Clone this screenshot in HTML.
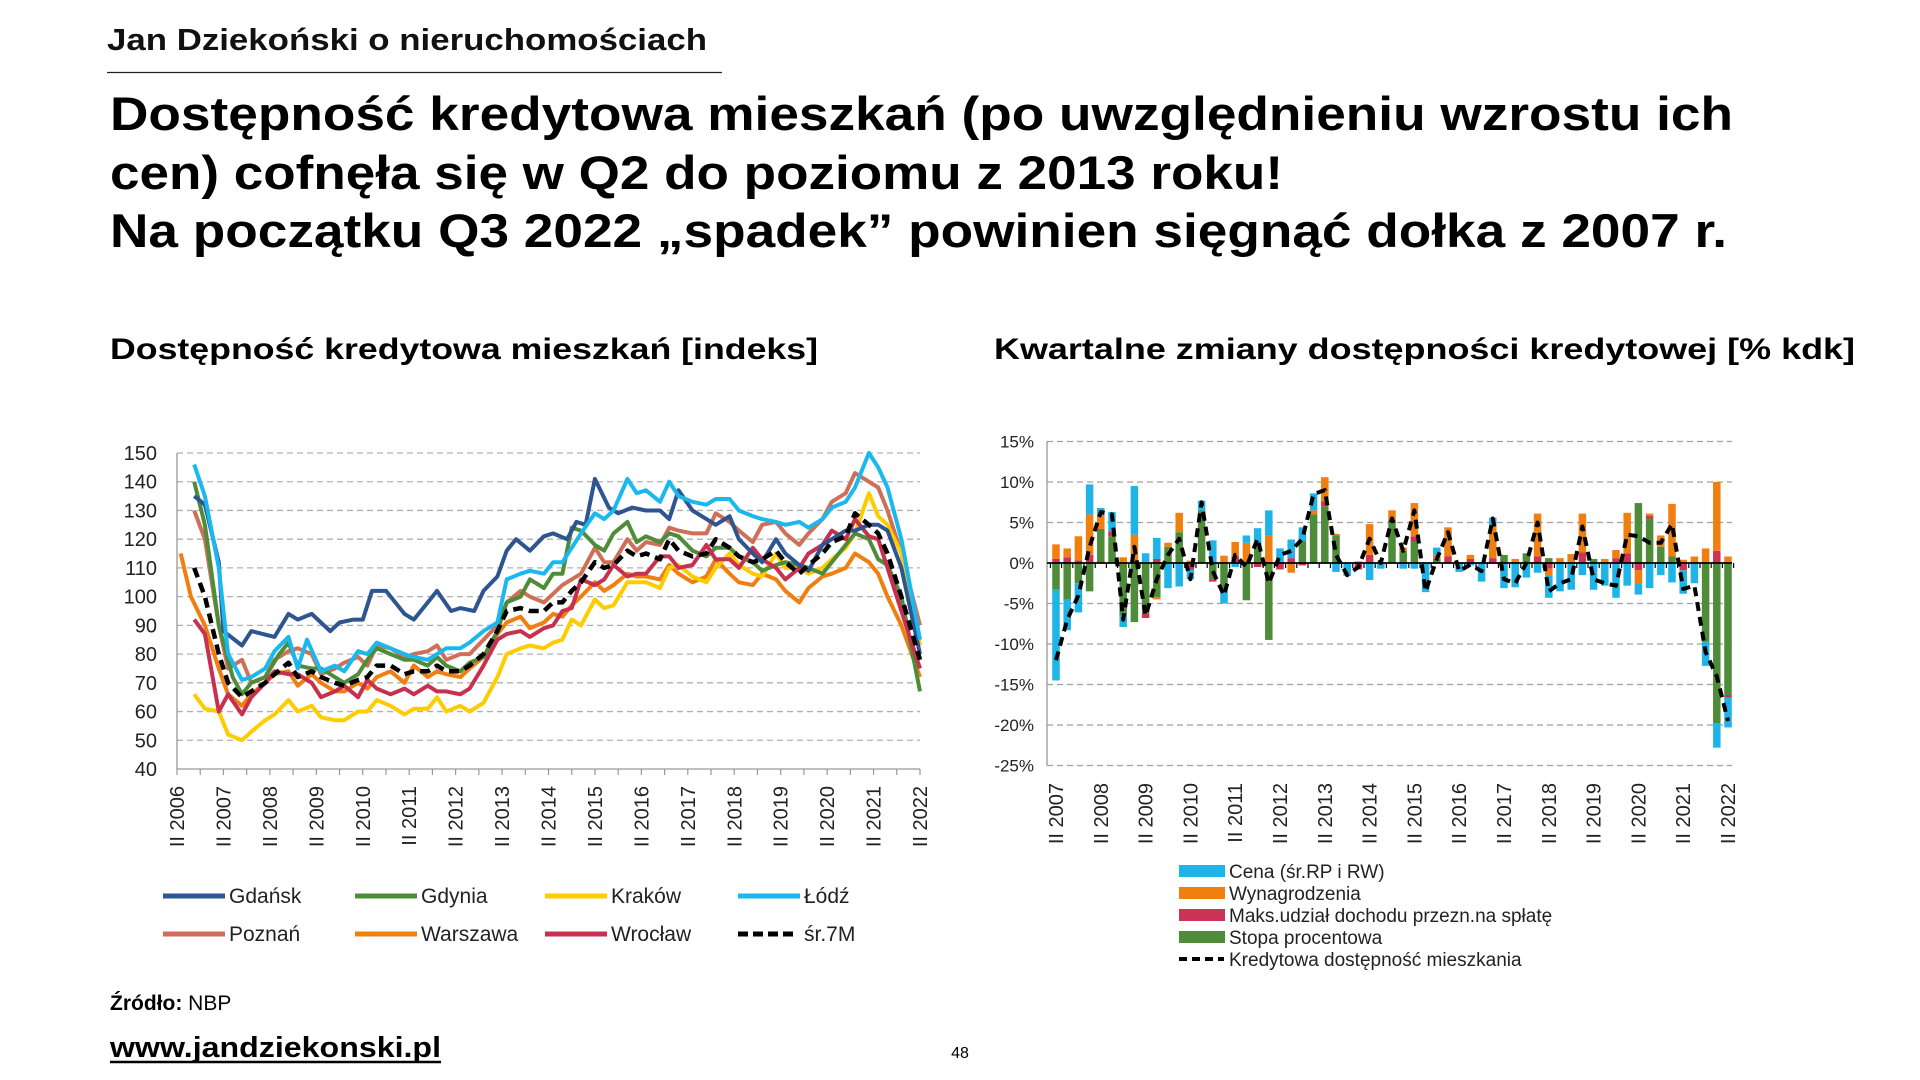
<!DOCTYPE html>
<html><head><meta charset="utf-8">
<style>
html,body{margin:0;padding:0;background:#fff;}
svg{display:block;font-family:"Liberation Sans",Arial,sans-serif;}
</style></head>
<body>
<svg id="s" width="1920" height="1080" viewBox="0 0 1920 1080" xmlns="http://www.w3.org/2000/svg">
<text x="107" y="50" font-size="31" font-weight="bold" textLength="600" lengthAdjust="spacingAndGlyphs" fill="#111">Jan Dziekoński o nieruchomościach</text>
<line x1="107" y1="72.5" x2="722" y2="72.5" stroke="#222" stroke-width="1.3"/>
<g font-weight="bold" font-size="47" fill="#000">
<text x="110" y="130" textLength="1623" lengthAdjust="spacingAndGlyphs">Dostępność kredytowa mieszkań (po uwzględnieniu wzrostu ich</text>
<text x="110" y="189" textLength="1173" lengthAdjust="spacingAndGlyphs">cen) cofnęła się w Q2 do poziomu z 2013 roku!</text>
<text x="110" y="247" textLength="1617" lengthAdjust="spacingAndGlyphs">Na początku Q3 2022 „spadek” powinien sięgnąć dołka z 2007 r.</text>
</g>
<g font-weight="bold" font-size="30" fill="#000">
<text x="110" y="359" textLength="708" lengthAdjust="spacingAndGlyphs">Dostępność kredytowa mieszkań [indeks]</text>
<text x="994" y="359" textLength="861" lengthAdjust="spacingAndGlyphs">Kwartalne zmiany dostępności kredytowej [% kdk]</text>
</g>
<g id="left"></g>
<g id="right"></g>
<text x="110" y="1010" font-size="21" fill="#000"><tspan font-weight="bold">Źródło:</tspan> NBP</text>
<text x="110" y="1057" font-size="29" font-weight="bold" fill="#000" textLength="331" lengthAdjust="spacingAndGlyphs">www.jandziekonski.pl</text>
<line x1="110" y1="1062" x2="441" y2="1062" stroke="#000" stroke-width="2.5"/>
<text x="960" y="1058" font-size="16" text-anchor="middle" fill="#000">48</text>
</svg>
<script>
var NS="http://www.w3.org/2000/svg";
function el(p,t,a,txt){var e=document.createElementNS(NS,t);for(var k in a)e.setAttribute(k,a[k]);if(txt!=null)e.textContent=txt;p.appendChild(e);return e;}
var L=document.getElementById('left');
// left chart
var x0=177,x1=920,yT=453,yB=769;
function lx(y){return x0+(y-2006)/16*(x1-x0);}
function ly(v){return yB-(v-40)/110*(yB-yT);}
for(var v=40;v<=150;v+=10){
  if(v>40)el(L,'line',{x1:x0,y1:ly(v),x2:x1,y2:ly(v),stroke:'#b0b0b0','stroke-width':1.3,'stroke-dasharray':'6,4'});
  el(L,'text',{x:157,y:ly(v)+7,'font-size':20,'text-anchor':'end',fill:'#222'},v);
}
el(L,'line',{x1:x0,y1:yT,x2:x0,y2:yB,stroke:'#999','stroke-width':1.3});
el(L,'line',{x1:x0,y1:yB,x2:x1,y2:yB,stroke:'#999','stroke-width':1.3});
for(var q=0;q<=64;q+=2){var xx=x0+q*(x1-x0)/64;el(L,'line',{x1:xx,y1:yB,x2:xx,y2:yB+6,stroke:'#999','stroke-width':1.2});}
for(var y=2006;y<=2022;y++){var xx=lx(y)+7;el(L,'text',{x:xx,y:786,'font-size':20,'text-anchor':'end',fill:'#222',transform:'rotate(-90 '+xx+' 786)'},'II '+y);}
var S={
gd:['#2E5591',[2006.37,135,2006.6,132,2006.9,112,2007.0,88,2007.4,83,2007.6,88,2008.1,86,2008.4,94,2008.6,92,2008.9,94,2009.3,88,2009.5,91,2009.8,92,2010.0,92,2010.2,102,2010.5,102,2010.9,94,2011.1,92,2011.4,98,2011.6,102,2011.9,95,2012.1,96,2012.4,95,2012.6,102,2012.9,107,2013.1,116,2013.3,120,2013.6,116,2013.9,121,2014.1,122,2014.4,120,2014.6,126,2014.8,125,2015.0,141,2015.3,131,2015.5,129,2015.8,131,2016.1,130,2016.4,130,2016.6,127,2016.8,137,2017.1,130,2017.4,127,2017.6,125,2017.9,128,2018.1,120,2018.4,115,2018.6,112,2018.9,120,2019.1,115,2019.4,111,2019.6,109,2019.9,118,2020.1,120,2020.4,123,2020.6,123,2020.9,125,2021.1,125,2021.3,123,2021.6,110,2022.0,80]],
gy:['#4E8C3A',[2006.37,140,2006.6,125,2006.9,90,2007.2,72,2007.4,66,2007.6,70,2007.9,72,2008.2,80,2008.4,84,2008.6,76,2008.9,75,2009.1,75,2009.4,72,2009.6,70,2009.9,73,2010.1,78,2010.3,82,2010.6,80,2010.9,78,2011.1,78,2011.4,76,2011.6,79,2011.8,76,2012.1,74,2012.3,77,2012.6,79,2012.9,88,2013.1,98,2013.4,100,2013.6,106,2013.9,103,2014.1,108,2014.3,108,2014.5,124,2014.7,123,2015.0,118,2015.2,116,2015.4,122,2015.7,126,2015.9,119,2016.1,121,2016.4,119,2016.6,122,2016.8,121,2017.1,116,2017.4,114,2017.6,117,2017.9,117,2018.1,114,2018.4,112,2018.6,109,2018.9,111,2019.1,112,2019.4,111,2019.6,110,2019.9,108,2020.1,112,2020.4,118,2020.6,122,2020.9,120,2021.1,113,2021.3,111,2021.6,100,2022.0,67]],
kr:['#FFCC00',[2006.37,66,2006.6,61,2006.9,60,2007.1,52,2007.4,50,2007.6,53,2007.9,57,2008.1,59,2008.4,64,2008.6,60,2008.9,62,2009.1,58,2009.4,57,2009.6,57,2009.9,60,2010.1,60,2010.3,64,2010.6,62,2010.9,59,2011.1,61,2011.4,61,2011.6,65,2011.8,60,2012.1,62,2012.3,60,2012.6,63,2012.9,72,2013.1,80,2013.4,82,2013.6,83,2013.9,82,2014.1,84,2014.3,85,2014.5,92,2014.7,90,2015.0,99,2015.2,96,2015.4,97,2015.7,105,2015.9,105,2016.1,105,2016.4,103,2016.6,110,2016.8,111,2017.1,107,2017.4,105,2017.6,110,2017.9,115,2018.1,111,2018.4,108,2018.6,107,2018.9,115,2019.1,110,2019.4,110,2019.6,108,2019.9,110,2020.1,113,2020.4,117,2020.6,122,2020.9,136,2021.1,128,2021.3,125,2021.6,115,2022.0,83]],
lo:['#1BB8F0',[2006.37,146,2006.6,135,2006.9,110,2007.1,80,2007.4,71,2007.6,72,2007.9,75,2008.1,81,2008.4,86,2008.6,75,2008.8,85,2009.1,74,2009.4,76,2009.6,74,2009.9,81,2010.1,80,2010.3,84,2010.6,82,2010.9,80,2011.1,79,2011.4,78,2011.6,80,2011.8,82,2012.1,82,2012.3,84,2012.6,88,2012.9,91,2013.1,106,2013.4,108,2013.6,109,2013.9,108,2014.1,112,2014.3,112,2014.5,117,2014.7,122,2015.0,129,2015.2,127,2015.4,130,2015.7,141,2015.9,136,2016.1,137,2016.4,133,2016.6,140,2016.8,135,2017.1,133,2017.4,132,2017.6,134,2017.9,134,2018.1,130,2018.4,128,2018.6,127,2018.9,126,2019.1,125,2019.4,126,2019.6,124,2019.9,127,2020.1,131,2020.4,133,2020.6,138,2020.9,150,2021.1,145,2021.3,138,2021.6,120,2022.0,85]],
po:['#CF6F58',[2006.37,130,2006.6,120,2006.9,90,2007.1,75,2007.4,78,2007.6,70,2007.9,72,2008.1,78,2008.4,81,2008.6,82,2008.9,80,2009.1,73,2009.4,75,2009.6,77,2009.9,79,2010.1,76,2010.3,83,2010.6,82,2010.9,79,2011.1,80,2011.4,81,2011.6,83,2011.8,78,2012.1,80,2012.3,80,2012.6,85,2012.9,90,2013.1,98,2013.4,102,2013.6,100,2013.9,98,2014.1,101,2014.3,104,2014.5,106,2014.7,108,2015.0,117,2015.2,112,2015.4,112,2015.7,120,2015.9,116,2016.1,119,2016.4,118,2016.6,124,2016.8,123,2017.1,122,2017.4,122,2017.6,129,2017.9,126,2018.1,123,2018.4,119,2018.6,125,2018.9,126,2019.1,122,2019.4,118,2019.6,122,2019.9,127,2020.1,133,2020.4,136,2020.6,143,2020.9,140,2021.1,138,2021.3,130,2021.6,115,2022.0,90]],
wa:['#F07F10',[2006.08,115,2006.3,100,2006.6,90,2006.9,75,2007.1,66,2007.4,62,2007.6,66,2007.9,70,2008.1,73,2008.4,74,2008.6,69,2008.9,73,2009.1,70,2009.4,67,2009.6,67,2009.9,70,2010.1,68,2010.3,72,2010.6,74,2010.9,70,2011.1,76,2011.4,72,2011.6,74,2011.8,73,2012.1,72,2012.3,75,2012.6,79,2012.9,87,2013.1,91,2013.4,93,2013.6,89,2013.9,91,2014.1,94,2014.3,93,2014.5,97,2014.7,100,2015.0,105,2015.2,102,2015.4,104,2015.7,108,2015.9,107,2016.1,107,2016.4,106,2016.6,111,2016.8,108,2017.1,105,2017.4,107,2017.6,113,2017.9,108,2018.1,105,2018.4,104,2018.6,108,2018.9,106,2019.1,102,2019.4,98,2019.6,103,2019.9,107,2020.1,108,2020.4,110,2020.6,115,2020.9,112,2021.1,108,2021.3,100,2021.6,90,2022.0,72]],
wr:['#C8304F',[2006.37,92,2006.6,87,2006.9,60,2007.1,66,2007.4,59,2007.6,65,2007.9,70,2008.1,74,2008.4,73,2008.6,73,2008.9,70,2009.1,65,2009.4,67,2009.6,69,2009.9,65,2010.1,71,2010.3,68,2010.6,66,2010.9,68,2011.1,66,2011.4,69,2011.6,67,2011.8,67,2012.1,66,2012.3,68,2012.6,76,2012.9,85,2013.1,87,2013.4,88,2013.6,86,2013.9,89,2014.1,90,2014.3,95,2014.5,96,2014.7,106,2015.0,104,2015.2,106,2015.4,111,2015.7,107,2015.9,108,2016.1,108,2016.4,114,2016.6,114,2016.8,110,2017.1,111,2017.4,118,2017.6,113,2017.9,113,2018.1,110,2018.4,117,2018.6,113,2018.9,110,2019.1,106,2019.4,110,2019.6,115,2019.9,118,2020.1,123,2020.4,120,2020.6,127,2020.9,121,2021.1,120,2021.3,110,2021.6,95,2022.0,75]],
av:['#000',[2006.37,110,2006.6,100,2006.9,80,2007.1,70,2007.4,65,2007.6,67,2007.9,70,2008.1,73,2008.4,77,2008.6,72,2008.9,74,2009.1,72,2009.4,70,2009.6,69,2009.9,71,2010.1,72,2010.3,76,2010.6,76,2010.9,73,2011.1,74,2011.4,74,2011.6,76,2011.8,74,2012.1,74,2012.3,76,2012.6,80,2012.9,88,2013.1,95,2013.4,96,2013.6,95,2013.9,95,2014.1,98,2014.3,98,2014.5,102,2014.7,105,2015.0,112,2015.2,110,2015.4,111,2015.7,116,2015.9,114,2016.1,115,2016.4,113,2016.6,120,2016.8,116,2017.1,114,2017.4,115,2017.6,120,2017.9,117,2018.1,114,2018.4,112,2018.6,113,2018.9,116,2019.1,112,2019.4,108,2019.6,111,2019.9,115,2020.1,119,2020.4,121,2020.6,129,2020.9,125,2021.1,122,2021.3,115,2021.6,100,2022.0,78]]};
['po','wa','kr','gy','wr','gd','lo','av'].forEach(function(k){
  var c=S[k][0],d=S[k][1],p=[];
  for(var i=0;i<d.length;i+=2)p.push(lx(d[i]).toFixed(1)+','+ly(d[i+1]).toFixed(1));
  var a={points:p.join(' '),fill:'none',stroke:c,'stroke-width':4,'stroke-linejoin':'round'};
  if(k=='av'){a['stroke-dasharray']='10,6';a['stroke-width']=4.5;}
  el(L,'polyline',a);
});
var leg=[['Gdańsk','#2E5591',163,896],['Gdynia','#4E8C3A',355,896],['Kraków','#FFCC00',545,896],['Łódź','#1BB8F0',738,896],
['Poznań','#CF6F58',163,934],['Warszawa','#F07F10',355,934],['Wrocław','#C8304F',545,934],['śr.7M','#000',738,934]];
leg.forEach(function(g){
  var a={x1:g[2],y1:g[3],x2:g[2]+62,y2:g[3],stroke:g[1],'stroke-width':5};
  if(g[0]=='śr.7M'){a['stroke-dasharray']='10,5';a.x2=g[2]+57;}
  el(L,'line',a);
  el(L,'text',{x:g[2]+66,y:g[3]+7,'font-size':21,fill:'#222'},g[0]);
});
// right chart
var R=document.getElementById('right');
var rx0=1047,rx1=1732,ry15=441.5,ry0=563,ppu=8.1;
function ry(v){return ry0-v*ppu;}
for(var v=-25;v<=15;v+=5){
  if(v!=0)el(R,'line',{x1:rx0,y1:ry(v),x2:rx1,y2:ry(v),stroke:'#a0a0a0','stroke-width':1.3,'stroke-dasharray':'6,4'});
  el(R,'text',{x:1034,y:ry(v)+6,'font-size':17,'text-anchor':'end',fill:'#222'},v+'%');
}
el(R,'line',{x1:rx0,y1:ry(15),x2:rx0,y2:ry(-25),stroke:'#999','stroke-width':1.3});
var bx0=1056,bstep=11.2;
// [cena, wyn, maks, stopa] as list of segments: positive stack and negative stack given explicitly
// each bar: pos:[[color,height]...] bottom-up, neg:[[color,depth]...] top-down
var C={c:'#1EB4E8',w:'#F07F10',m:'#CC3355',s:'#4E8C3A'};
var B=[
['m.5 w1.8','s3.3 c11.2'],['m.7 w1.1','s4.5 c3.8'],['m.3 w3','s2.5 c3.6'],['m1 w5 c3.7','s3.5'],['s4.2 w1.6 c1'],['s3.3 m.6 c2.4'],['w.7','s6.5 c1.4'],['w3.5 c6','s7.3'],['c1.2','s6.2 m.6'],['m.5 c2.6','s4.2 w.3'],
['s2 w.5','c3.1'],['s3.8 w2.4','c2.9'],['w.3','m.8 c1.2'],['s6.5 c1.2'],['c2.8','s2 m.3'],['w.9','s3 m.2 c1.8'],['m.8 w1.8','c.5'],['w2.5 c.9','s4.6'],['s2.5 c1.8','m.5'],['w3.4 c3.1','s9.5'],
['c1.8','m.8'],['m.6 c2.3','w1.2'],['s2.7 c1.7','m.3'],['s6 w.5 c2.1'],['s7 m.6 w3'],['s3.4 w.2','c1.1'],['','c1.6'],['w.2','m.8'],['m1 w3.8','c2.1'],['','c.7'],
['s5.3 w1.2'],['s1.5 w.4','c.7'],['s2.6 m.7 w4.1','c.7'],['','c3.6'],['s.5 w.5 c.9'],['m.8 w3.6'],['','c1.1'],['m.5 w.5','c.3'],['','c2.3'],['m.6 w4 c1'],
['s1','c3.1'],['w.5','c3'],['s1.2','c1.8'],['m.8 w5.3','c1.2'],['s.6','m.7 w.8 c2.8'],['w.6','c3.5'],['w1.1','c3.3'],['m1.3 w4.8','c1.5'],['s.5','c3.3'],['w.5','c2.8'],
['m.6 w1','c4.3'],['m1.2 w5','c2.8'],['s7.4','m.9 w1.7 c1.3'],['s5.5 m.3 w.3','c3.1'],['s2 w1.4','c1.5'],['s.8 w6.5','c2.4'],['w.4','m.9 c2.9'],['w.8','c2.5'],['w1.8','s9.7 c3'],['m1.5 w8.5','s19.8 c3'],
['w.8','s16.3 m.3 c3.7']];
function parse(s){if(!s)return[];return s.split(' ').filter(Boolean).map(function(t){return[C[t[0]],parseFloat(t.slice(1))];});}
B.forEach(function(b,i){
  var cx=bx0+i*bstep,w=7.5,acc=0;
  parse(b[0]).forEach(function(p){el(R,'rect',{x:cx-w/2,y:ry(acc+p[1]),width:w,height:p[1]*ppu,fill:p[0]});acc+=p[1];});
  acc=0;
  parse(b[1]||'').forEach(function(p){el(R,'rect',{x:cx-w/2,y:ry(-acc),width:w,height:p[1]*ppu,fill:p[0]});acc+=p[1];});
});
el(R,'line',{x1:rx0,y1:ry0,x2:rx1,y2:ry0,stroke:'#000','stroke-width':1.8});
for(var i=0;i<=61;i++){var xx=bx0-bstep/2+i*bstep;el(R,'line',{x1:xx,y1:ry0,x2:xx,y2:ry0+5,stroke:'#000','stroke-width':1.2});}
var LN=[-12,-7,-4,2,6.3,6,-7,2,-6.5,-2,1,3,-2,7.5,-1,-4,1,-0.5,3,-2.5,1,1.5,3,8.5,9,1,-1.5,-0.5,3,0,5.5,1.5,6.5,-3.5,0.5,3.8,-1,-0.2,-1,5.5,-2,-2.5,0,5,-3.5,-2.5,-2,4.5,-2,-2.5,-2.8,3.5,3.3,2.5,2.5,4.8,-3.2,-2.8,-11,-14,-19.5];
el(R,'polyline',{points:LN.map(function(v,i){return (bx0+i*bstep).toFixed(1)+','+ry(v).toFixed(1);}).join(' '),fill:'none',stroke:'#000','stroke-width':4,'stroke-dasharray':'9,6','stroke-linejoin':'round'});
for(var y=2007;y<=2022;y++){var xx=bx0+(y-2007)*4*bstep+7;el(R,'text',{x:xx,y:783,'font-size':20,'text-anchor':'end',fill:'#222',transform:'rotate(-90 '+xx+' 783)'},'II '+y);}
var rl=[['Cena (śr.RP i RW)','#1EB4E8',871],['Wynagrodzenia','#F07F10',893],['Maks.udział dochodu przezn.na spłatę','#CC3355',915],['Stopa procentowa','#4E8C3A',937]];
rl.forEach(function(g){el(R,'rect',{x:1179,y:g[2]-6,width:46,height:12,fill:g[1]});el(R,'text',{x:1229,y:g[2]+7,'font-size':19,fill:'#222'},g[0]);});
el(R,'line',{x1:1179,y1:959,x2:1224,y2:959,stroke:'#000','stroke-width':4,'stroke-dasharray':'8,5'});
el(R,'text',{x:1229,y:966,'font-size':19,fill:'#222'},'Kredytowa dostępność mieszkania');
</script>
</body></html>
